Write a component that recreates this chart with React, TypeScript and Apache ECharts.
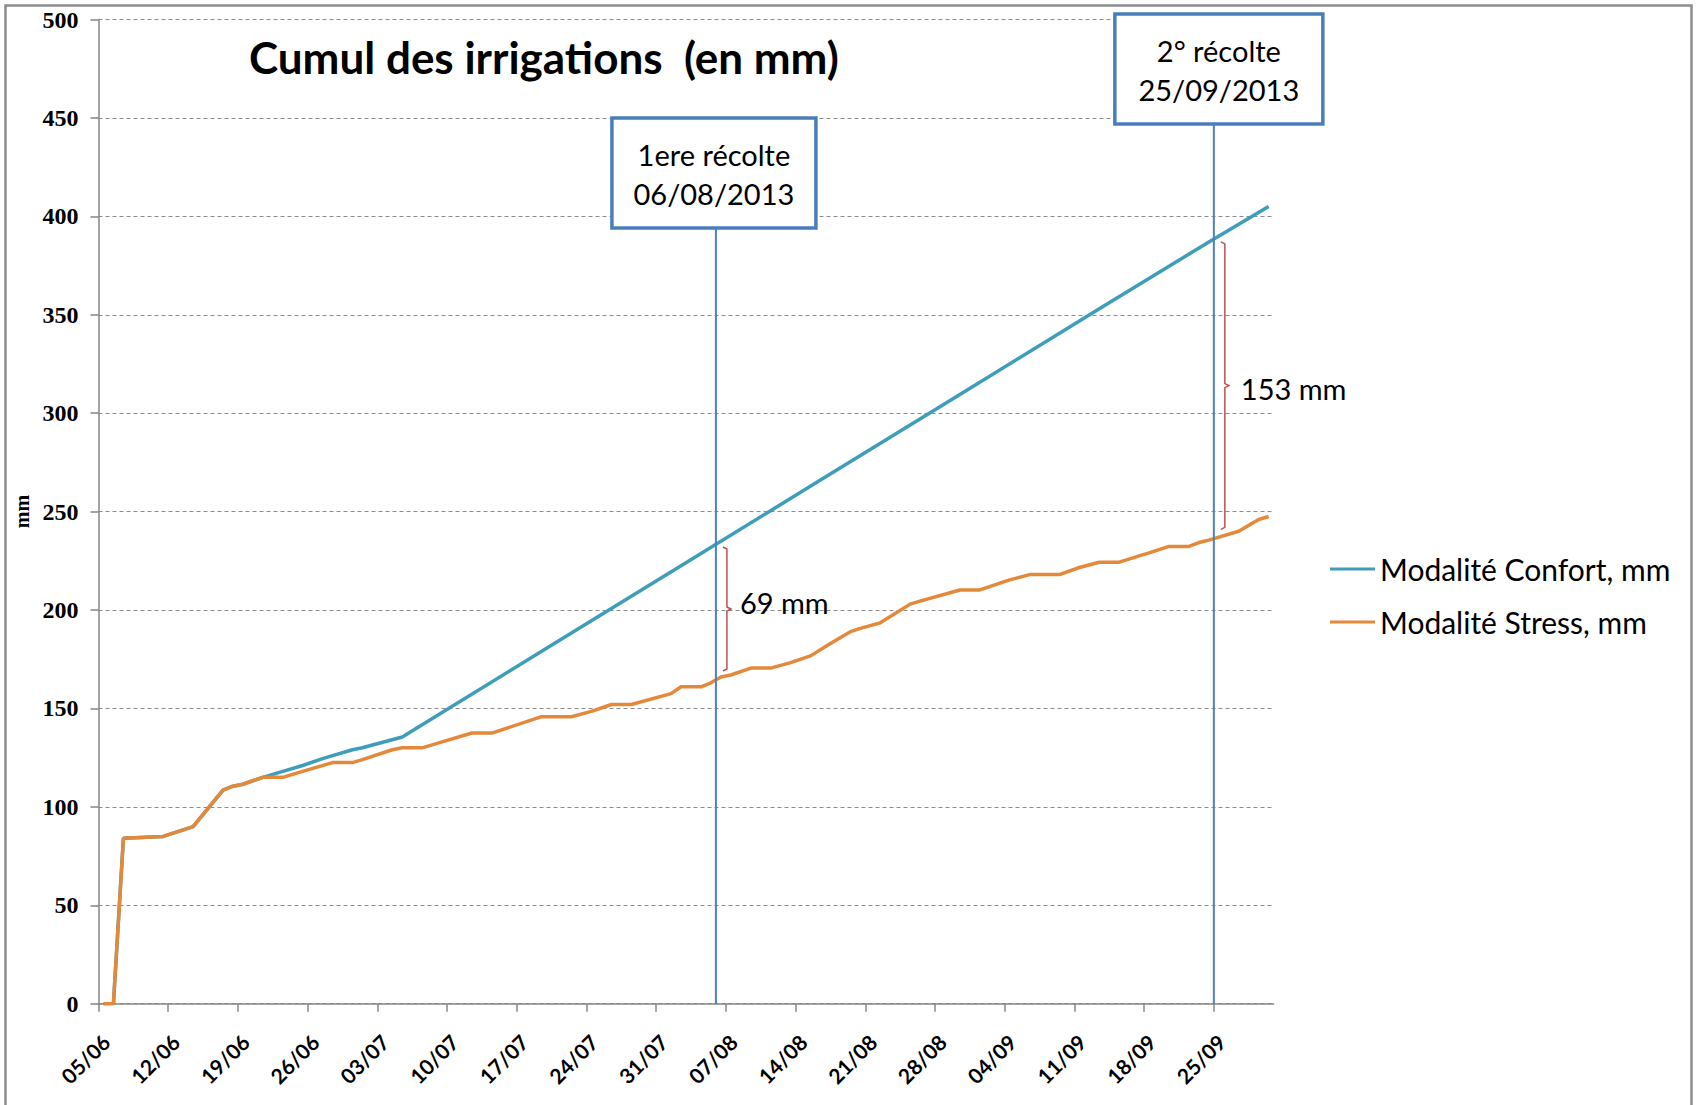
import React, { useEffect, useRef } from 'react';
import * as echarts from 'echarts';

// ---- Data ----
const tickLabels = ['05/06', '12/06', '19/06', '26/06', '03/07', '10/07', '17/07', '24/07', '31/07', '07/08', '14/08', '21/08', '28/08', '04/09', '11/09', '18/09', '25/09'];

const confortDates = ['05/06', '06/06', '07/06', '11/06', '14/06', '17/06', '18/06', '19/06', '21/06', '23/06', '25/06', '27/06', '30/06', '01/07', '05/07', '19/07', '02/08', '16/08', '30/08', '13/09', '24/09', '30/09'];
const confortValues = [0, 0, 84, 85, 90, 108.5, 110.5, 111.5, 115, 118, 121, 124.5, 129, 130, 135.5, 179, 222.5, 266, 309.5, 353, 387, 405];

const stressDates = ['05/06', '06/06', '07/06', '11/06', '14/06', '17/06', '18/06', '19/06', '21/06', '23/06', '25/06', '28/06', '30/06', '01/07', '04/07', '05/07', '07/07', '09/07', '12/07', '14/07', '19/07', '22/07', '24/07', '26/07', '28/07', '01/08', '02/08', '04/08', '05/08', '06/08', '07/08', '09/08', '11/08', '13/08', '15/08', '17/08', '19/08', '20/08', '22/08', '25/08', '26/08', '30/08', '01/09', '04/09', '06/09', '09/09', '11/09', '13/09', '15/09', '17/09', '18/09', '20/09', '22/09', '23/09', '24/09', '27/09', '29/09', '30/09'];
const stressValues = [0, 0, 84, 85, 90, 108.5, 110.5, 111.5, 115, 115, 118, 122.5, 122.5, 124, 129, 130, 130, 133, 137.5, 137.5, 145.8, 145.8, 148.5, 152, 152, 157.5, 161, 161, 163, 166, 167, 170.5, 170.5, 173.3, 176.7, 183, 189, 190.7, 193.5, 203, 204.5, 210.2, 210.2, 215.3, 218, 218, 221.6, 224.3, 224.3, 227.5, 229, 232.3, 232.3, 234.3, 235.5, 240, 246, 247.5];

const harvestDates = ['06/08', '25/09'];
const harvestLabels = ['1ere récolte\n06/08/2013', '2° récolte\n25/09/2013'];
const gapTops = [232, 387];
const gapBottoms = [169, 241];
const gapLabels = ['69 mm', '153 mm'];
const gapLabelLevels = [204, 312.5];

const seriesNames = ['Modalité Confort, mm', 'Modalité Stress, mm'];
const titleText = 'Cumul des irrigations  (en mm)';

// ---- helpers ----
const YEAR = 2013;
const ORIGIN = Date.UTC(YEAR, 5, 5);
const DAY = 86400000;
function dayOf(s: string): number {
  const [d, m] = s.split('/').map(Number);
  return Math.round((Date.UTC(YEAR, m - 1, d) - ORIGIN) / DAY);
}
function labelOf(v: number): string {
  const dt = new Date(ORIGIN + v * DAY);
  const dd = String(dt.getUTCDate()).padStart(2, '0');
  const mm = String(dt.getUTCMonth() + 1).padStart(2, '0');
  return dd + '/' + mm;
}
// Excel date axis: each day's point sits in the middle of its day slot
const toPoints = (dates: string[], vals: number[]) => dates.map((d, i) => [dayOf(d) + 0.5, vals[i]]);

const SANS = 'Lato, "Open Sans", sans-serif';
const SERIF = '"Liberation Serif", "DejaVu Serif", serif';
const AXIS_GRAY = '#868686';
const BLUE = '#4F81BD';

export default function App() {
  const ref = useRef<HTMLDivElement>(null);
  useEffect(() => {
    const chart = echarts.init(ref.current!, null, { renderer: 'svg' });
    const tickValues = tickLabels.map(dayOf);
    chart.setOption({
      animation: false,
      backgroundColor: '#ffffff',
      title: {
        text: titleText,
        left: 249,
        top: 31,
        padding: 0,
        textStyle: { fontFamily: SANS, fontWeight: 'bold', fontSize: 44, lineHeight: 52, color: '#000' },
      },
      legend: {
        orient: 'vertical',
        left: 1330,
        top: 552,
        padding: 0,
        itemWidth: 45,
        itemHeight: 14,
        itemGap: 19,
        icon: 'path://M0,5.5 L45,5.5 L45,8.5 L0,8.5 Z',
        textStyle: { fontFamily: SANS, fontSize: 30, lineHeight: 34, color: '#000' },
        data: seriesNames,
      },
      grid: { left: 98.5, right: 424.4, top: 19.5, bottom: 101.3 },
      xAxis: {
        type: 'value',
        min: 0,
        max: 118,
        interval: 7,
        axisLine: { show: true, onZero: false, lineStyle: { color: AXIS_GRAY, width: 1.5 } },
        axisTick: { show: true, length: 8, customValues: tickValues, lineStyle: { color: AXIS_GRAY, width: 1.5 } },
        axisLabel: {
          customValues: tickValues,
          rotate: 45,
          margin: 27,
          align: 'right',
          verticalAlign: 'top',
          formatter: (v: number) => labelOf(v),
          fontFamily: SANS,
          fontWeight: 'bold',
          fontSize: 21,
          color: '#000',
        },
        splitLine: { show: false },
      },
      yAxis: {
        type: 'value',
        min: 0,
        max: 500,
        interval: 50,
        name: 'mm',
        nameLocation: 'middle',
        nameGap: 57,
        nameRotate: 90,
        nameTextStyle: { fontFamily: SERIF, fontWeight: 'bold', fontSize: 20, color: '#000' },
        axisLine: { show: true, lineStyle: { color: AXIS_GRAY, width: 1.5 } },
        axisTick: { show: true, length: 8, lineStyle: { color: AXIS_GRAY, width: 1.5 } },
        axisLabel: { margin: 20, fontFamily: SERIF, fontWeight: 'bold', fontSize: 24, color: '#000' },
        splitLine: { show: true, lineStyle: { color: '#8c8c8c', width: 1, type: [4, 3] } },
      },
      series: [
        {
          name: seriesNames[0],
          type: 'line',
          data: toPoints(confortDates, confortValues),
          symbol: 'none',
          lineStyle: { color: '#3E9DB8', width: 3.5 },
          itemStyle: { color: '#3E9DB8' },
          z: 2,
        },
        {
          name: seriesNames[1],
          type: 'line',
          data: toPoints(stressDates, stressValues),
          symbol: 'none',
          lineStyle: { color: '#E4883A', width: 3.5 },
          itemStyle: { color: '#E4883A' },
          z: 3,
        },
      ],
    });

    // Annotations placed through the chart's own scales
    const boxTops = [118, 14];
    const boxW = [204, 208];
    const boxShift = [-2, 5];
    const boxH = 110;
    const graphics: any[] = [];
    const yZero = chart.convertToPixel({ yAxisIndex: 0 }, 0) as number;
    harvestDates.forEach((d, i) => {
      const x = chart.convertToPixel({ xAxisIndex: 0 }, dayOf(d)) as number;
      const top = boxTops[i];
      const cx = x + boxShift[i];
      graphics.push({
        type: 'line',
        z: 100,
        silent: true,
        shape: { x1: x, y1: yZero, x2: x, y2: top + boxH },
        style: { stroke: BLUE, lineWidth: 2 },
      });
      graphics.push({
        type: 'rect',
        z: 101,
        silent: true,
        shape: { x: cx - boxW[i] / 2, y: top, width: boxW[i], height: boxH },
        style: { fill: '#fff', stroke: '#4A7EBB', lineWidth: 3.5 },
      });
      graphics.push({
        type: 'text',
        z: 102,
        silent: true,
        x: cx,
        y: top + boxH / 2 + 1,
        style: {
          text: harvestLabels[i],
          fontFamily: SANS,
          fontSize: 29,
          lineHeight: 39,
          fill: '#000',
          align: 'center',
          verticalAlign: 'middle',
        },
      });
      // brace between the two curves
      const bx = x + 11;
      const yt = chart.convertToPixel({ yAxisIndex: 0 }, gapTops[i]) as number;
      const yb = chart.convertToPixel({ yAxisIndex: 0 }, gapBottoms[i]) as number;
      const ym = (yt + yb) / 2;
      const yl = chart.convertToPixel({ yAxisIndex: 0 }, gapLabelLevels[i]) as number;
      graphics.push({
        type: 'polyline',
        z: 100,
        silent: true,
        shape: {
          points: [
            [bx - 4, yt], [bx, yt + 2], [bx, ym - 2], [bx + 4, ym], [bx, ym + 2], [bx, yb - 2], [bx - 4, yb],
          ],
        },
        style: { stroke: '#C0504D', lineWidth: 1.5, fill: 'none' },
      });
      graphics.push({
        type: 'text',
        z: 100,
        silent: true,
        x: bx + 13 + (i === 1 ? 3 : 0),
        y: yl,
        style: {
          text: gapLabels[i],
          fontFamily: SANS,
          fontSize: 29,
          fill: '#000',
          align: 'left',
          verticalAlign: 'middle',
        },
      });
    });
    graphics.push({
      type: 'rect',
      z: 0,
      silent: true,
      shape: { x: 5.5, y: 5.5, width: 1686, height: 1120 },
      style: { fill: 'none', stroke: '#8c8c8c', lineWidth: 2.5 },
    });
    chart.setOption({ graphic: graphics });

    return () => chart.dispose();
  }, []);
  return (
    <div
      ref={ref}
      style={{ position: 'fixed', left: 0, top: 0, width: 1698, height: 1105, background: '#fff' }}
    />
  );
}
